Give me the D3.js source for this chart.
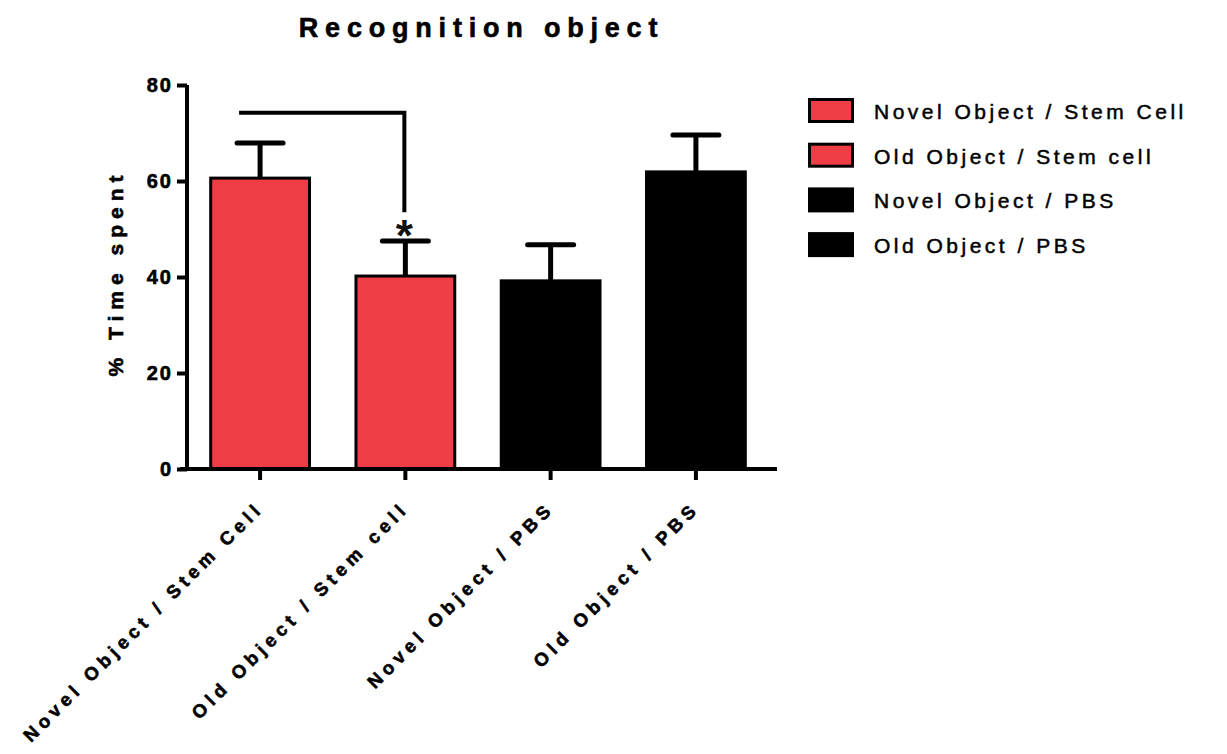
<!DOCTYPE html>
<html>
<head>
<meta charset="utf-8">
<script src="https://cdn.jsdelivr.net/npm/d3@7"></script>
<style>
  body { margin: 0; background: #fff; }
  svg text { font-family: "Liberation Sans", Arial, sans-serif; }
  svg text.heavy { stroke: #000; stroke-width: 0.6px; }
</style>
</head>
<body>
<div id="container"></div>
<script>
/**
 * DATA
 * */
const groups = ["Novel Object / Stem Cell", "Old Object / Stem cell", "Novel Object / PBS", "Old Object / PBS"];
const means = [60.6, 40.2, 39.2, 61.9];
const errors = [7.3, 7.3, 7.5, 7.7];
const colors = ["#EF3D45", "#EF3D45", "#000000", "#000000"];
const yTicks = [0, 20, 40, 60, 80];
// significance bracket between group 0 and group 1
const bracket = { from: 0, to: 1, top: 74.2, bottom: 53.5, label: "*" };

/**
 * CONSTANTS
 * */
const width = 1227,
  height = 754;

const svg = d3.select("#container")
  .append("svg")
  .attr("width", width)
  .attr("height", height);

const x = d3.scaleBand()
  .domain(groups)
  .range([186, 770])
  .paddingInner(0.32)
  .paddingOuter(0.17);

const y = d3.scaleLinear()
  .domain([0, 80])
  .range([469, 85]);

const cx = d => x(d) + x.bandwidth() / 2;

// title
svg.append("text")
  .attr("class", "heavy")
  .attr("x", 478)
  .attr("y", 37)
  .attr("dx", 3.5)
  .attr("text-anchor", "middle")
  .attr("font-size", 27)
  .attr("font-weight", "bold")
  .attr("letter-spacing", 6.8)
  .text("Recognition object");

// bars
svg.append("g")
  .selectAll("rect")
  .data(groups)
  .join("rect")
  .attr("x", d => x(d))
  .attr("y", (d, i) => y(means[i]))
  .attr("width", x.bandwidth())
  .attr("height", (d, i) => y(0) - y(means[i]))
  .attr("fill", (d, i) => colors[i])
  .attr("stroke", "#000")
  .attr("stroke-width", 3);

// error bars (upper only)
const err = svg.append("g").attr("stroke", "#000").attr("stroke-width", 5);
err.selectAll("line.stem")
  .data(groups)
  .join("line")
  .attr("class", "stem")
  .attr("x1", cx).attr("x2", cx)
  .attr("y1", (d, i) => y(means[i]))
  .attr("y2", (d, i) => y(means[i] + errors[i]));
err.selectAll("line.cap")
  .data(groups)
  .join("line")
  .attr("class", "cap")
  .attr("stroke-linecap", "round")
  .attr("x1", d => cx(d) - 23).attr("x2", d => cx(d) + 23)
  .attr("y1", (d, i) => y(means[i] + errors[i]))
  .attr("y2", (d, i) => y(means[i] + errors[i]));

// y axis
const yAxis = svg.append("g")
  .attr("transform", "translate(187,0)")
  .call(d3.axisLeft(y).tickValues(yTicks).tickSize(10).tickPadding(6));
yAxis.select(".domain").attr("stroke-width", 4).attr("d", `M0,${y(80)}V${y(0)}`);
yAxis.selectAll(".tick line").attr("stroke-width", 4);
yAxis.selectAll(".tick text")
  .attr("class", "heavy")
  .attr("font-size", 20)
  .attr("font-weight", "bold")
  .attr("letter-spacing", 2)
  .attr("dx", 2)
  .attr("fill", "#000");

// x axis
const xAxis = svg.append("g")
  .attr("transform", `translate(0,${y(0)})`)
  .call(d3.axisBottom(x).tickSize(11).tickFormat(""));
xAxis.select(".domain").attr("stroke-width", 4).attr("d", "M180,0H777");
xAxis.selectAll(".tick line").attr("stroke-width", 4);

// rotated category labels
svg.append("g")
  .selectAll("text")
  .data(groups)
  .join("text")
  .attr("class", "heavy")
  .attr("transform", d => `translate(${cx(d) + 1},${y(0) + 44}) rotate(-45)`)
  .attr("text-anchor", "end")
  .attr("dx", 5)
  .attr("font-size", 18.5)
  .attr("font-weight", "bold")
  .attr("letter-spacing", 4.9)
  .text(d => d);

// y label
svg.append("text")
  .attr("class", "heavy")
  .attr("transform", `translate(123,276) rotate(-90)`)
  .attr("text-anchor", "middle")
  .attr("dx", 3)
  .attr("font-size", 21)
  .attr("font-weight", "bold")
  .attr("letter-spacing", 6)
  .text("% Time spent");

// significance bracket
const bx1 = cx(groups[bracket.from]) - 21,
  bx2 = cx(groups[bracket.to]) - 1;
svg.append("path")
  .attr("d", `M${bx1},${y(bracket.top)}H${bx2}V${y(bracket.bottom)}`)
  .attr("fill", "none")
  .attr("stroke", "#000")
  .attr("stroke-width", 4);
svg.append("text")
  .attr("x", bx2)
  .attr("y", y(bracket.bottom) + 39)
  .attr("text-anchor", "middle")
  .attr("font-size", 44)
  .attr("font-weight", "bold")
  .attr("fill", "#111")
  .text(bracket.label);

// legend
const legend = svg.append("g")
  .selectAll("g")
  .data(groups)
  .join("g")
  .attr("transform", (d, i) => `translate(808,${98 + i * 44.7})`);
legend.append("rect")
  .attr("x", 1.5).attr("y", 1.5)
  .attr("width", 43).attr("height", 22)
  .attr("fill", (d, i) => colors[i])
  .attr("stroke", "#000")
  .attr("stroke-width", 3);
legend.append("text")
  .attr("x", 66)
  .attr("y", 21)
  .attr("font-size", 21)
  .attr("letter-spacing", 3.5)
  .attr("stroke", "#000")
  .attr("stroke-width", 0.5)
  .text(d => d);
</script>
</body>
</html>
